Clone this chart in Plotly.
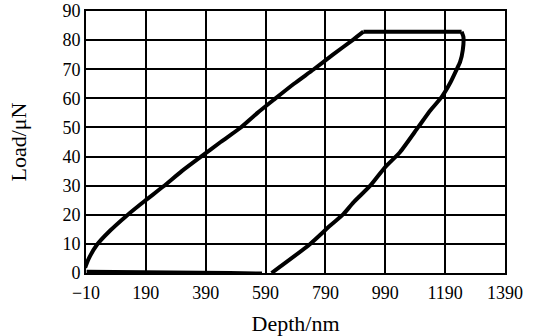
import plotly.graph_objects as go

# Loading segment (depth nm, load uN)
load_depth = [-13, -2, 26, 70, 126, 187, 248, 310, 372, 440, 505, 563, 621, 685, 750, 815, 883, 917]
load_load = [1.8, 4.7, 9.6, 14.5, 19.7, 24.8, 29.7, 35.0, 39.8, 45.0, 49.8, 55.0, 59.8, 65.0, 69.9, 75.0, 80.2, 82.9]

# Hold segment
hold_depth = [917, 1000, 1100, 1200, 1245]
hold_load = [82.9, 82.9, 82.9, 82.9, 82.9]

# Unloading segment
unload_depth = [1245, 1251, 1249, 1240, 1228, 1208, 1178, 1141, 1100, 1039, 989, 939, 883, 850, 805, 738, 610]
unload_load = [82.9, 81.1, 76.6, 72.5, 69.8, 65.5, 60.4, 55.9, 50.1, 41.5, 36.3, 29.9, 24.2, 20.2, 16.2, 9.9, 0.0]

# Approach baseline near zero load
base_depth = [-8, 470, 578]
base_load = [0.4, 0.0, -0.2]

x_ticks = [-10, 190, 390, 590, 790, 990, 1190, 1390]
y_ticks = [0, 10, 20, 30, 40, 50, 60, 70, 80, 90]

fig = go.Figure()
for xs, ys in [(base_depth, base_load), (load_depth, load_load),
               (hold_depth, hold_load), (unload_depth, unload_load)]:
    fig.add_trace(go.Scatter(x=xs, y=ys, mode="lines",
                             line=dict(color="black", width=4, shape="spline", smoothing=0.6),
                             showlegend=False, hoverinfo="skip"))

font = dict(family="Liberation Serif, Times New Roman, serif", size=18, color="black")
fig.update_layout(
    width=536, height=336,
    margin=dict(l=86, r=31, t=11, b=63),
    paper_bgcolor="white", plot_bgcolor="white",
    font=font,
)
fig.update_xaxes(
    range=[-10, 1390], tickvals=x_ticks, ticktext=[("\u2212" + str(-v)) if v < 0 else str(v) for v in x_ticks],
    showgrid=True, gridcolor="black", gridwidth=1.5,
    showline=True, linecolor="black", linewidth=2, mirror=True,
    zeroline=False, ticks="", ticklabelstandoff=2,
    title=dict(text="Depth/nm", standoff=16), automargin=False,
    tickfont=font,
)
fig.update_yaxes(
    range=[0, 90], tickvals=y_ticks,
    showgrid=True, gridcolor="black", gridwidth=1.5,
    showline=True, linecolor="black", linewidth=2, mirror=True,
    zeroline=False, ticks="", title=dict(text="Load/\u03bcN", standoff=30), automargin=False,
    tickfont=font,
)
fig.write_html("out.html")
